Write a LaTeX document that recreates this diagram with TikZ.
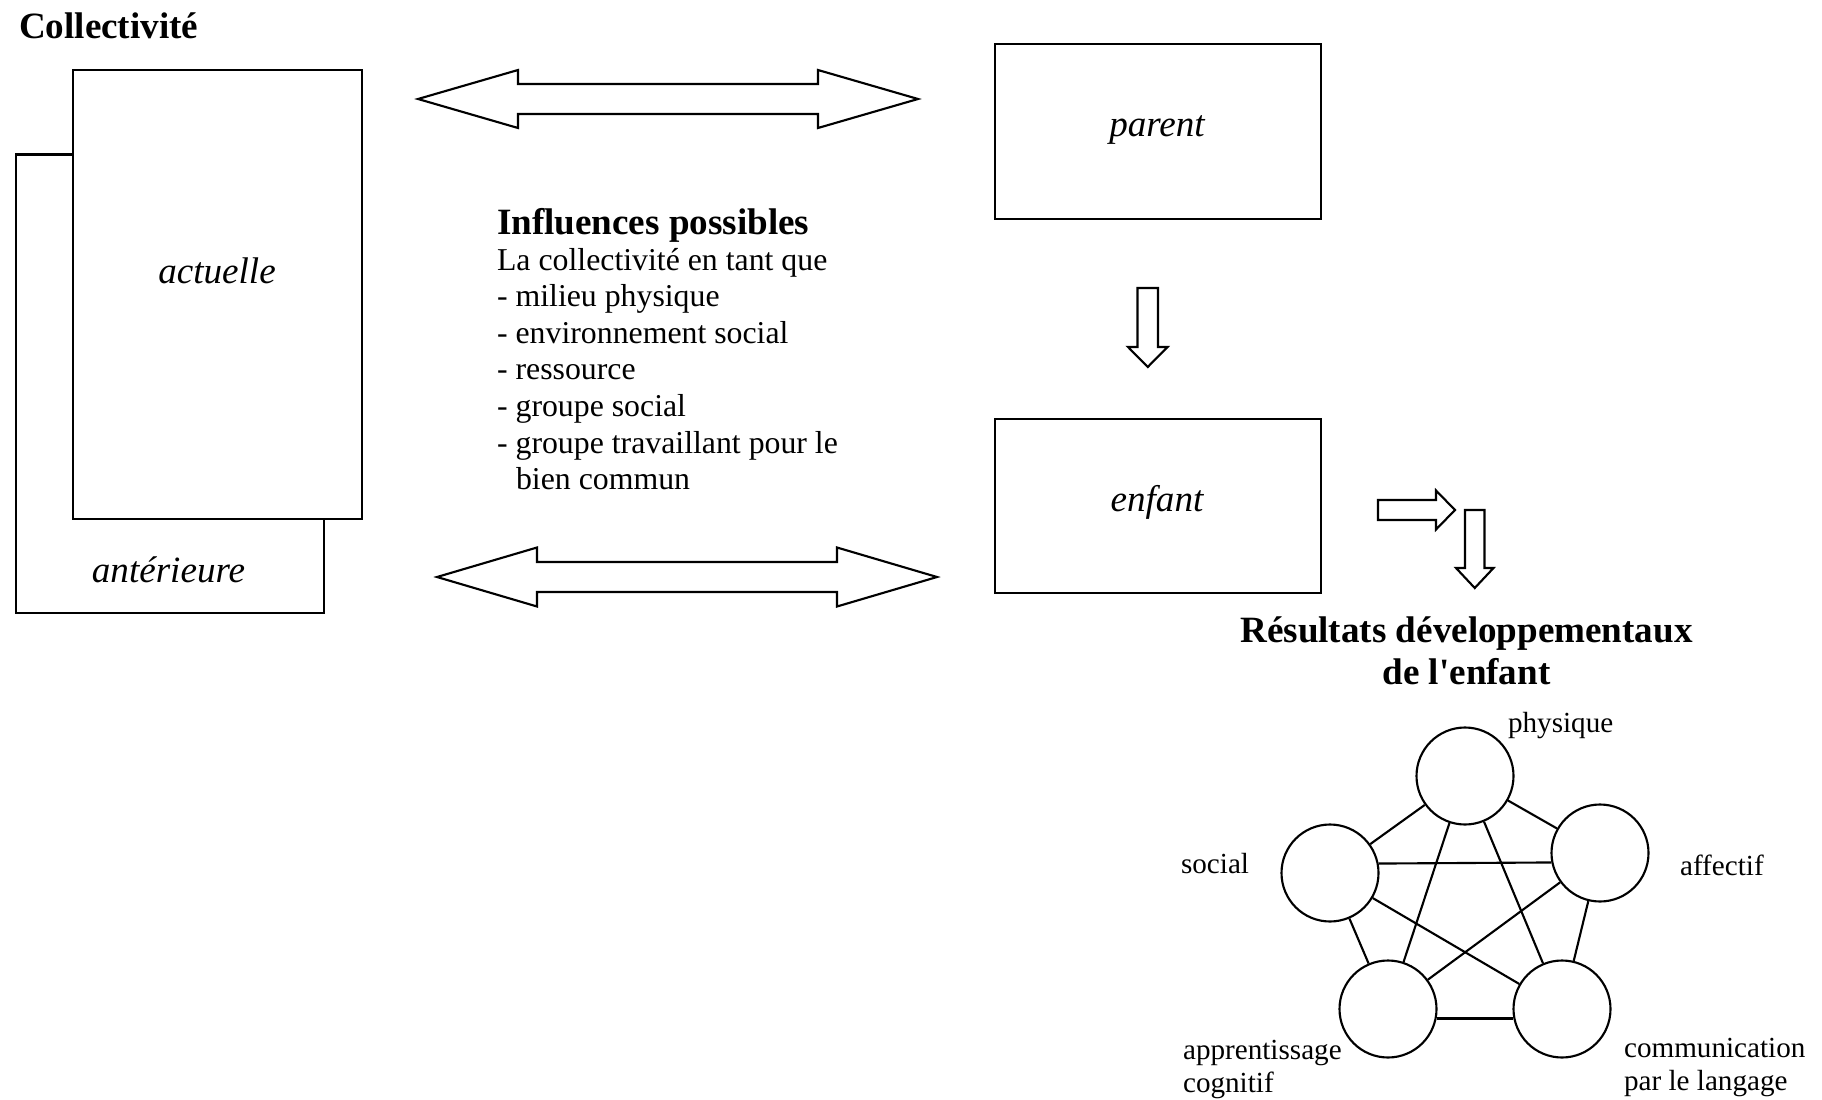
\documentclass[tikz,border=0pt]{standalone}
\usepackage{fontspec}
\setmainfont{Liberation Serif}
\newlength\pxu
\setlength\pxu{0.37736pt}
\begin{document}
\begin{tikzpicture}[x=0.37736pt,y=-0.37736pt,line width=0.8pt,
  box/.style={draw,fill=white,inner sep=0,anchor=north west},
  blk/.style={draw,fill=white,line join=miter},
  txt/.style={inner sep=0,font=\fontsize{12pt}{13.8pt}\selectfont},
  head/.style={inner sep=0,font=\fontsize{14pt}{16pt}\selectfont\bfseries},
  ital/.style={inner sep=0,font=\fontsize{14pt}{16pt}\selectfont\itshape},
  small/.style={inner sep=0,font=\fontsize{11pt}{12.6pt}\selectfont,anchor=base west},
  dom/.style={draw,circle,inner sep=0,minimum size=97\pxu}]
\useasboundingbox (0,0) rectangle (1822,1100);

% Collectivite boxes
\node[head,anchor=base west] (coll) at (18,39) {Collectivité};
\node[box,minimum width=308\pxu,minimum height=458\pxu] (ant) at (15,153.5) {};
\node[box,minimum width=289\pxu,minimum height=449\pxu] (act) at (72,69) {};
\node[ital,anchor=base] (tact) at (217,283) {actuelle};
\node[ital,anchor=base] (tant) at (168.5,582) {antérieure};

% parent / enfant
\node[box,minimum width=326\pxu,minimum height=175\pxu] (par) at (994,43) {};
\node[ital,anchor=base] (tpar) at (1157,136.5) {parent};
\node[box,minimum width=326\pxu,minimum height=174\pxu] (enf) at (994,418) {};
\node[ital,anchor=base] (tenf) at (1157,511) {enfant};

% double block arrows
\draw[blk] (418,99) -- (518,70) -- (518,84) -- (818,84) -- (818,70) -- (918,99)
  -- (818,128) -- (818,114) -- (518,114) -- (518,128) -- cycle;
\draw[blk] (437,577) -- (537,547.5) -- (537,562) -- (837,562) -- (837,547.5) -- (937,577)
  -- (837,606.5) -- (837,592) -- (537,592) -- (537,606.5) -- cycle;

% single block arrows
\draw[blk] (1137.5,288) -- (1158,288) -- (1158,347) -- (1167.5,347) -- (1147.75,367)
  -- (1128,347) -- (1137.5,347) -- cycle;
\draw[blk] (1378,500) -- (1436,500) -- (1436,490.5) -- (1455,510) -- (1436,529.5)
  -- (1436,520) -- (1378,520) -- cycle;
\draw[blk] (1465,510) -- (1484.5,510) -- (1484.5,568) -- (1493.5,568) -- (1474.75,588)
  -- (1456,568) -- (1465,568) -- cycle;

% Influences possibles
\node[head,anchor=base west] (infl) at (496,234) {Influences possibles};
\node[txt,anchor=base west] (l1) at (496,270) {La collectivité en tant que};
\node[txt,anchor=base west] (l2) at (496,306.6) {- milieu physique};
\node[txt,anchor=base west] (l3) at (496,343.2) {- environnement social};
\node[txt,anchor=base west] (l4) at (496,379.8) {- ressource};
\node[txt,anchor=base west] (l5) at (496,416.4) {- groupe social};
\node[txt,anchor=base west] (l6) at (496,453) {- groupe travaillant pour le};
\node[txt,anchor=base west] (l7) at (515,489.6) {bien commun};

% Resultats
\node[head,anchor=base] (res1) at (1466.5,642) {Résultats développementaux};
\node[head,anchor=base] (res2) at (1466.5,684) {de l\textquotesingle enfant};

% pentagon of domains
\node[dom] (P) at (1465,776) {};
\node[dom] (A) at (1600,853) {};
\node[dom] (S) at (1330,873) {};
\node[dom] (C) at (1388,1009) {};
\node[dom] (L) at (1562,1009) {};
\foreach \a/\b in {P/A,P/S,P/C,P/L,A/C,A/L,S/C,S/L}
  \draw (\a) -- (\b);
\draw (S.11.9) -- (A.191.9);
\draw (C.-11.9) -- (L.191.9);

\node[small] (tP) at (1507,732) {physique};
\node[small] (tS) at (1180,873) {social};
\node[small] (tA) at (1679,875) {affectif};
\node[small] (tC1) at (1182,1059) {apprentissage};
\node[small] (tC2) at (1182,1092) {cognitif};
\node[small] (tL1) at (1623,1057) {communication};
\node[small] (tL2) at (1623,1090) {par le langage};
\end{tikzpicture}
\end{document}
